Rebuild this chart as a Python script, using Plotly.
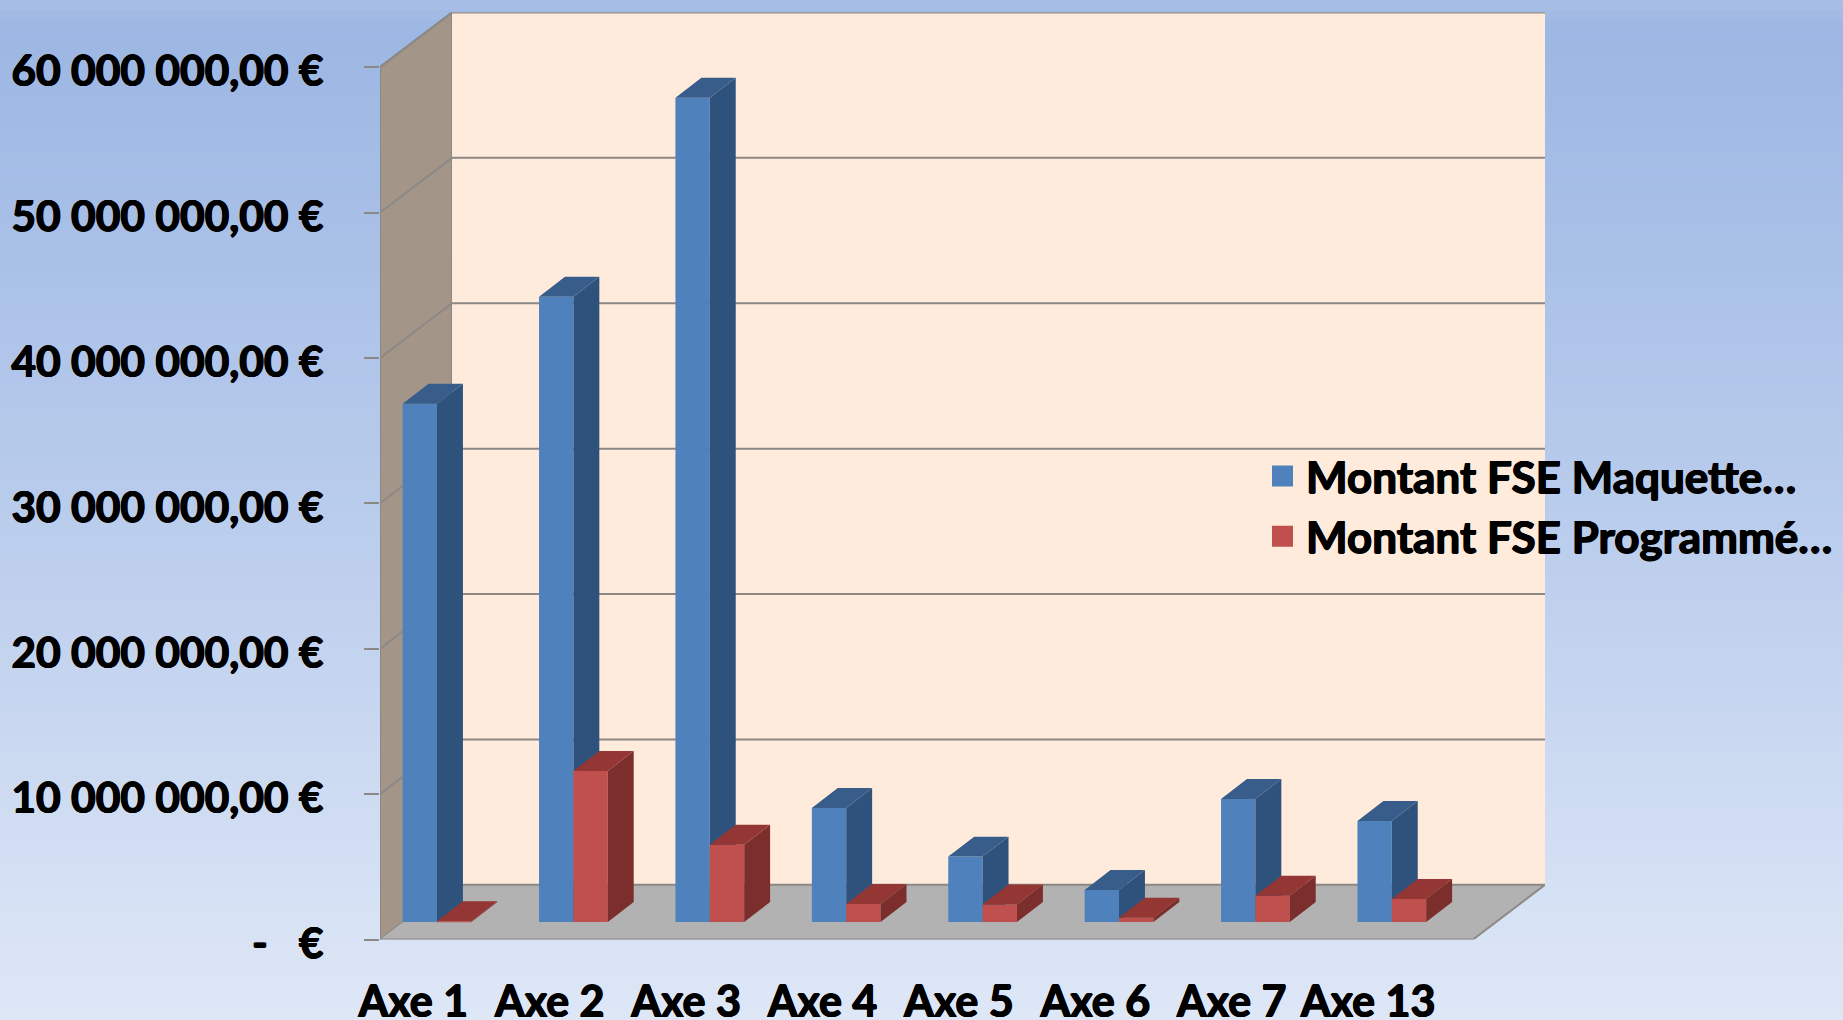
import plotly.graph_objects as go

categories = ["Axe 1", "Axe 2", "Axe 3", "Axe 4", "Axe 5", "Axe 6", "Axe 7", "Axe 13"]
maquette = [35650000, 43000000, 56700000, 7850000, 4500000, 2200000, 8460000, 6950000]
programme = [50000, 10390000, 5320000, 1240000, 1210000, 300000, 1810000, 1580000]
y_ticks = [0, 10000000, 20000000, 30000000, 40000000, 50000000, 60000000]
y_labels = ["-\u00a0\u00a0\u00a0€", "10 000 000,00 €", "20 000 000,00 €", "30 000 000,00 €",
            "40 000 000,00 €", "50 000 000,00 €", "60 000 000,00 €"]
series_names = ["Montant FSE Maquette…", "Montant FSE Programmé…"]

W, H = 1843, 1020
FONT = "Lato"
HEAVY = "0.7px 0 0 #000,-0.7px 0 0 #000,0 0.5px 0 #000,0 -0.5px 0 #000"
BLUE, BLUE_SIDE, BLUE_TOP = "#4F81BD", "#2F527C", "#385D8A"
RED, RED_SIDE, RED_TOP = "#C0504D", "#7B2E2C", "#943634"
GRID = "#8C8885"

# pseudo-3D geometry, in axis units
X0, X1 = -0.418, 8.123
Y1 = 63770000
WALL_DX, WALL_DY = 0.528, 3760000
BAR_W, BAR_DX, BAR_DY = 0.252, 0.19, 1375000
BASE = 1200000
LABEL_SHIFT = -0.174
pos = list(range(len(categories)))

fig = go.Figure()

# background gradient
stops = [[0, "#DEE7F6"], [0.5, "#B9CCEC"], [0.975, "#9CB7E3"], [1, "#A6BEE6"]]
fig.add_trace(go.Heatmap(z=[[i] for i in range(101)], x=[0], colorscale=stops, showscale=False,
                         hoverinfo="skip", xaxis="x", yaxis="y"))


def poly(points_list, color, z, line=None):
    xs, ys = [], []
    for pts in points_list:
        xs += [p[0] for p in pts] + [pts[0][0], None]
        ys += [p[1] for p in pts] + [pts[0][1], None]
    fig.add_trace(go.Scatter(x=xs, y=ys, mode="lines" if line else "none", fill="toself", fillcolor=color,
                             line=dict(color=line or color, width=2 if line else 0), hoverinfo="skip",
                             showlegend=False, xaxis="x2", yaxis="y2", zorder=z))


top = y_ticks[-1]
xr_front = X1 - WALL_DX
poly([[(X0, 0), (X0 + WALL_DX, WALL_DY), (X0 + WALL_DX, top + WALL_DY), (X0, top)]], "#A39689", 0, GRID)
poly([[(X0 + WALL_DX, WALL_DY), (X1, WALL_DY), (X1, top + WALL_DY), (X0 + WALL_DX, top + WALL_DY)]], "#FFEBDB", 0)
poly([[(X0, 0), (xr_front, 0), (X1, WALL_DY), (X0 + WALL_DX, WALL_DY)]], "#B2B2B2", 0)

gx, gy = [], []
for v in y_ticks[1:]:
    gx += [X0, X0 + WALL_DX, X1, None]
    gy += [v, v + WALL_DY, v + WALL_DY, None]
fig.add_trace(go.Scatter(x=gx, y=gy, mode="lines", line=dict(color=GRID, width=2), hoverinfo="skip",
                         showlegend=False, xaxis="x2", yaxis="y2", zorder=1))
fig.add_trace(go.Scatter(x=[X0, xr_front, X1, X0 + WALL_DX], y=[0, 0, WALL_DY, WALL_DY], mode="lines",
                         line=dict(color=GRID, width=2), hoverinfo="skip", showlegend=False,
                         xaxis="x2", yaxis="y2", zorder=1))


def bar3d(values, start, name, front, side, topc, z):
    fig.add_trace(go.Bar(x=pos, y=values, base=BASE, width=BAR_W, offset=start, marker=dict(color=front, line=dict(width=0)),
                         name=name, showlegend=False, xaxis="x2", yaxis="y2", zorder=z))
    sides, tops = [], []
    for p, v in zip(pos, values):
        l = p + start
        r = l + BAR_W
        t = BASE + v
        sides.append([(r, BASE), (r + BAR_DX, BASE + BAR_DY), (r + BAR_DX, t + BAR_DY), (r, t)])
        tops.append([(l, t), (l + BAR_DX, t + BAR_DY), (r + BAR_DX, t + BAR_DY), (r, t)])
    poly(sides, side, z + 1)
    poly(tops, topc, z + 1)


bar3d(maquette, -BAR_W, series_names[0], BLUE, BLUE_SIDE, BLUE_TOP, 2)
bar3d(programme, 0, series_names[1], RED, RED_SIDE, RED_TOP, 4)

# legend entries
for name, color in zip(series_names, [BLUE, RED]):
    fig.add_trace(go.Scatter(x=[None], y=[None], mode="markers", name=name,
                             marker=dict(symbol="square", size=16, color=color, line=dict(color=color, width=5)),
                             xaxis="x2", yaxis="y2"))

fig.update_layout(
    width=W, height=H, margin=dict(l=0, r=0, t=0, b=0),
    paper_bgcolor="#C0D0EE", plot_bgcolor="rgba(0,0,0,0)", barmode="overlay",
    font=dict(family=FONT, color="#000000"),
    xaxis=dict(domain=[0, 1], visible=False, fixedrange=True, automargin=False),
    yaxis=dict(domain=[0, 1], visible=False, fixedrange=True, range=[-0.5, 100.5], automargin=False),
    xaxis2=dict(domain=[380 / W, 1545 / W], range=[X0, X1], anchor="y2", showgrid=False, zeroline=False,
                tickmode="array", tickvals=[p + LABEL_SHIFT for p in pos], ticktext=categories,
                ticks="", ticklabelstandoff=33, tickangle=0, showline=False, automargin=False,
                tickfont=dict(family=FONT, size=43, weight="bold", color="#000", shadow=HEAVY)),
    yaxis2=dict(domain=[1 - 939.5 / H, 1 - 12.3 / H], range=[0, Y1], anchor="x2", showgrid=False, zeroline=False,
                tickmode="array", tickvals=y_ticks, ticktext=y_labels, ticks="outside", ticklen=15,
                tickcolor=GRID, tickwidth=2, ticklabelstandoff=32, ticklabelshift=4, showline=False, automargin=False,
                tickfont=dict(family=FONT, size=42.5, weight="bold", color="#000", shadow=HEAVY)),
    legend=dict(x=1259 / W, y=1 - 441 / H, xanchor="left", yanchor="top", bgcolor="rgba(0,0,0,0)",
                font=dict(family=FONT, size=44, weight="bold", color="#000", shadow=HEAVY), itemwidth=37, borderwidth=0),
    showlegend=True,
)

fig.write_html("out.html", config={"displayModeBar": False},
               post_script="document.body.style.margin='0';document.body.style.overflow='hidden';")
